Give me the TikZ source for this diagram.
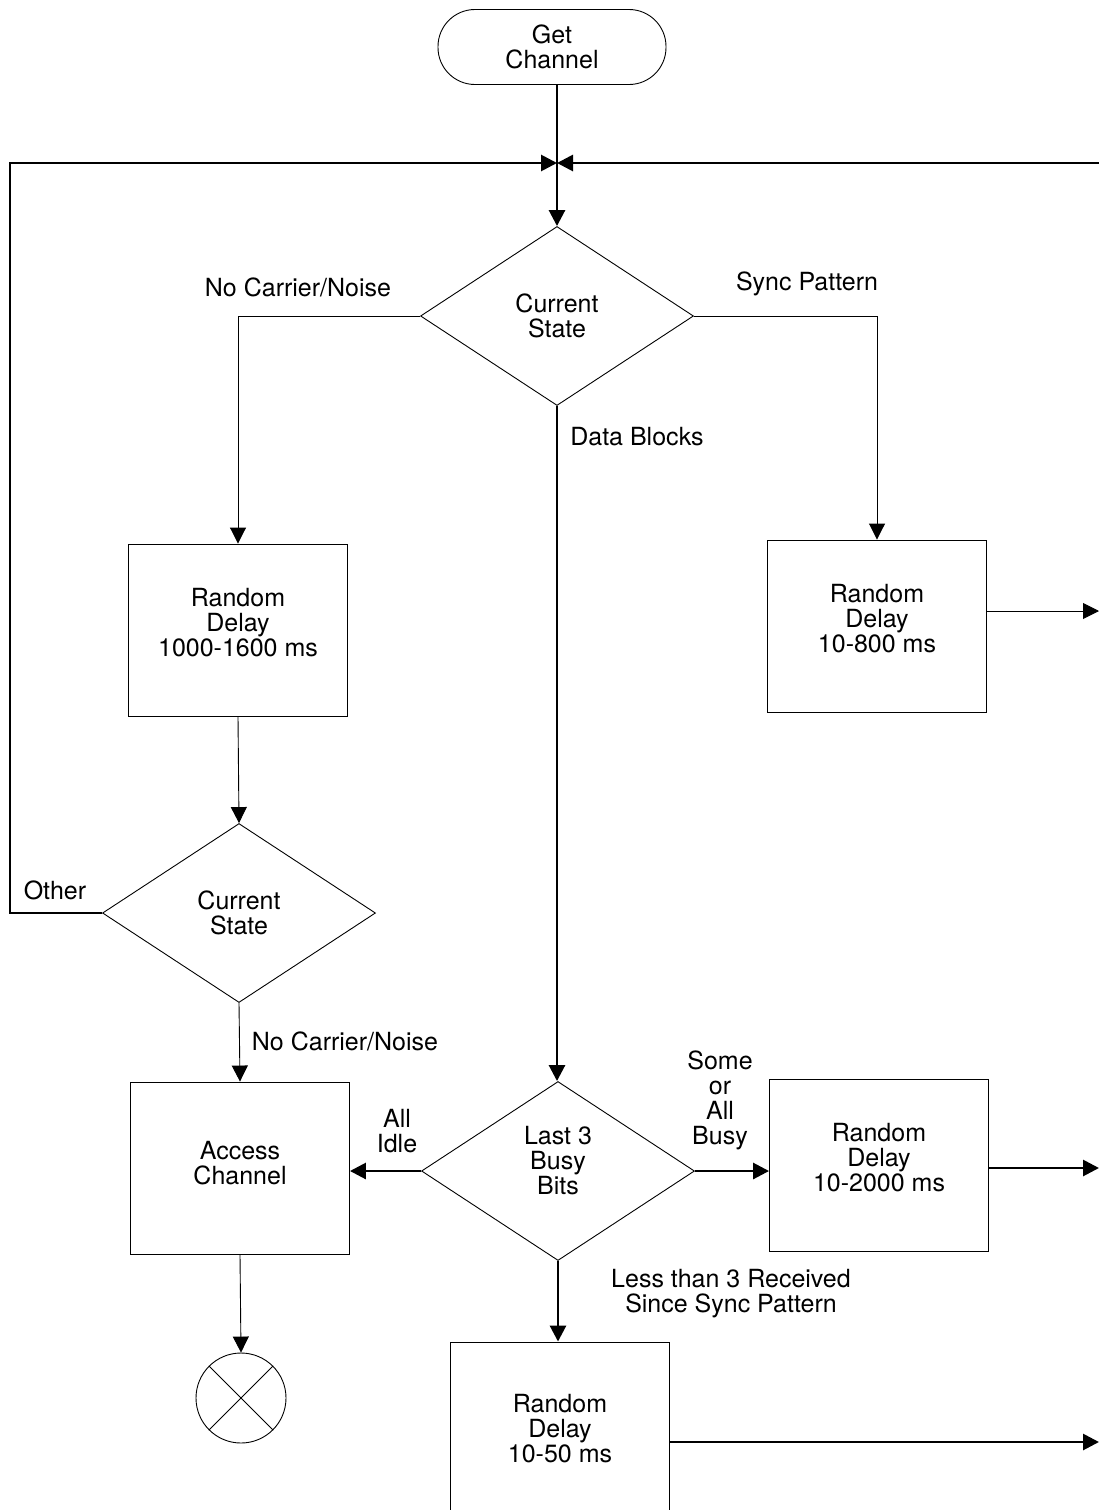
\documentclass[tikz,border=0pt]{standalone}
\usepackage{fontspec}
\setmainfont{TeX Gyre Heros}
\usetikzlibrary{shapes.geometric,arrows.meta}

\begin{document}
\begin{tikzpicture}[x=1pt,y=1pt,yscale=-1,xscale=1,
  every node/.style={font=\fontsize{25}{25}\selectfont, align=center, inner sep=0pt},
  startbox/.style={draw, line width=0.9pt, rectangle, rounded corners=37pt, minimum width=228pt, minimum height=75pt},
  delaybox/.style={draw, line width=0.9pt, rectangle, minimum width=219pt, minimum height=172pt, text depth=16pt},
  decision/.style={draw, line width=0.9pt, diamond, minimum width=273pt, minimum height=179pt},
  stopmark/.style={draw, line width=0.9pt, circle, minimum size=90pt},
  thinline/.style={line width=0.9pt},
  thickline/.style={line width=2.8pt},
  tip/.style={-{Triangle[length=16pt,width=16pt]}}]
\useasboundingbox (0,0) rectangle (1099,1510);

% Shapes
\node [startbox] (getch) at (552,47) {Get\\Channel};
\node [decision] (state1) at (557,316) {Current\\State};
\node [delaybox] (delay1) at (238,630) {Random\\Delay\\1000-1600 ms};
\node [delaybox] (delay2) at (877,626) {Random\\Delay\\10-800 ms};
\node [decision] (state2) at (239,913) {Current\\State};
\node [delaybox, text depth=10pt] (access) at (240,1168) {Access\\Channel};
\node [decision, text depth=22pt] (busy) at (558,1171) {Last 3\\Busy\\Bits};
\node [delaybox] (delay3) at (879,1165) {Random\\Delay\\10-2000 ms};
\node [delaybox, text depth=0pt] (delay4) at (560,1428) {Random\\Delay\\10-50 ms};
\node [stopmark] (stop) at (241,1398) {};
\draw [thinline] (stop.north west) -- (stop.south east);
\draw [thinline] (stop.north east) -- (stop.south west);

% Points
\coordinate (join) at (557,163);
\coordinate (loopl) at (10,163);
\coordinate (loopr) at (1099,163);
\coordinate (out1) at (1099,611);
\coordinate (out2) at (1099,1168);
\coordinate (out3) at (1099,1442);

% Connectors
\draw [thickline] (getch.south -| join) -- (join);
\draw [thickline, tip] (join) -- (state1.north);
\draw [thickline, tip] (loopr) -- (join);
\draw [thickline, tip] (state2.west) -| (loopl) -- (join);
\draw [thinline, tip] (state1.west) -| (delay1.north);
\draw [thinline, tip] (state1.east) -| (delay2.north);
\draw [thickline, tip] (state1.south) -- (state1.south |- busy.north);
\draw [thinline, tip] (delay1.south) -- (state2.north);
\draw [thinline, tip] (state2.south) -- (access.north);
\draw [thinline, tip] (access.south) -- (stop.north);
\draw [thinline, tip] (out1 -| delay2.east) -- (out1);
\draw [thickline, tip] (busy.west) -- (access.east |- busy.west);
\draw [thickline, tip] (busy.east) -- (delay3.west |- busy.east);
\draw [thickline, tip] (busy.south) -- (busy.south |- delay4.north);
\draw [thickline, tip] (out2 -| delay3.east) -- (out2);
\draw [thickline, tip] (out3 -| delay4.east) -- (out3);

% Text Nodes
\node (lblnc1) at (298,287) {No Carrier/Noise};
\node (lblsync) at (807,284) {Sync Pattern};
\node (lbldata) at (637,437) {Data Blocks};
\node (lblother) at (55,890) {Other};
\node (lblnc2) at (345,1041) {No Carrier/Noise};
\node (lblidle) at (397,1131) {All\\Idle};
\node (lblbusy) at (720,1100) {Some\\or\\All\\Busy};
\node (lblless) at (731,1294) {Less than 3 Received\\Since Sync Pattern};

\end{tikzpicture}
\end{document}
